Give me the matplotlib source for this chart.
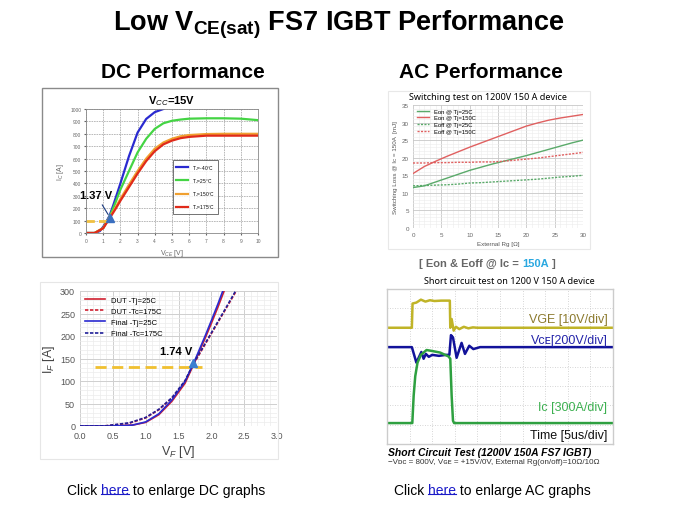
import matplotlib
matplotlib.use("Agg")
import matplotlib.pyplot as plt
from matplotlib.patches import Rectangle
from matplotlib.lines import Line2D

plt.rcParams["font.family"] = ["Liberation Sans", "DejaVu Sans"]
plt.rcParams["mathtext.fontset"] = "custom"
plt.rcParams["mathtext.rm"] = "Liberation Sans"
plt.rcParams["mathtext.it"] = "Liberation Sans:italic"
plt.rcParams["mathtext.bf"] = "Liberation Sans:bold"

W, H = 675, 506

# ── DC: output characteristic Ic vs Vce (Vge = 15 V) ────────────────────────
vce_m40 = [0, 0.5, 0.8, 1.0, 1.2, 1.37, 1.6, 2.0, 2.5, 3.0, 3.5, 4.0, 4.5]
ic_m40 = [0, 0, 15, 50, 95, 140, 230, 400, 620, 810, 920, 975, 1000]
vce_25 = [0, 0.5, 1.0, 1.37, 1.7, 2.0, 2.5, 3.0, 3.5, 4.0, 4.5, 5.0, 5.5, 6.0, 7.0, 8.0, 9.0, 10.0]
ic_25 = [0, 0, 40, 130, 240, 350, 500, 650, 760, 840, 885, 905, 915, 922, 925, 925, 922, 910]
vce_hot = [0, 0.5, 1.0, 1.37, 1.7, 2.0, 2.5, 3.0, 3.5, 4.0, 4.5, 5.0, 5.5, 6.0, 7.0, 8.0, 9.0, 10.0]
ic_150 = [0, 0, 40, 125, 200, 275, 390, 500, 600, 680, 730, 760, 780, 790, 798, 800, 800, 800]
ic_175 = [0, 0, 38, 118, 190, 260, 370, 480, 580, 660, 715, 745, 765, 775, 785, 785, 785, 785]
dc_labels = ["T$_J$=-40°C", "T$_J$=25°C", "T$_J$=150°C", "T$_J$=175°C"]

# ── DC: diode forward characteristic If vs Vf ───────────────────────────────
vf_cold = [0, 0.2, 0.4, 0.6, 0.8, 1.0, 1.2, 1.4, 1.6, 1.74, 1.9, 2.0, 2.1, 2.2, 2.3]
if_dut25 = [0, 0, 0, 0.5, 2, 8, 25, 55, 95, 140, 193, 228, 264, 302, 345]
if_fin25 = [0, 0, 0, 0.5, 2, 9, 27, 58, 99, 143, 198, 234, 271, 310, 352]
vf_hot = [0, 0.2, 0.4, 0.5, 0.75, 1.0, 1.2, 1.4, 1.6, 1.74, 1.9, 2.0, 2.2, 2.4]
if_dut175 = [0, 0, 0.5, 2, 6, 18, 36, 62, 100, 140, 180, 205, 255, 305]
if_fin175 = [0, 0, 0.5, 2.5, 7, 19, 37, 63, 101, 142, 182, 207, 257, 308]
vf_labels = ["DUT -Tj=25C", "DUT -Tc=175C", "Final -Tj=25C", "Final -Tc=175C"]

# ── AC: switching loss vs external Rg ───────────────────────────────────────
rg = [0, 2, 4, 6, 8, 10, 12, 14, 16, 18, 20, 22, 24, 26, 28, 30]
eon_25 = [11.5, 12.0, 13.1, 14.2, 15.3, 16.4, 17.3, 18.2, 19.0, 19.8, 20.6, 21.5, 22.4, 23.3, 24.2, 25.0]
eon_150 = [15.5, 17.5, 19.0, 20.4, 21.7, 23.0, 24.2, 25.4, 26.6, 27.8, 29.0, 29.9, 30.7, 31.3, 31.8, 32.3]
eoff_25 = [12.0, 12.1, 12.2, 12.3, 12.5, 12.8, 12.9, 13.1, 13.3, 13.5, 13.7, 13.9, 14.2, 14.5, 14.7, 15.0]
eoff_150 = [18.5, 18.5, 18.6, 18.6, 18.7, 18.7, 18.8, 18.8, 19.0, 19.3, 19.6, 19.9, 20.3, 20.7, 21.1, 21.5]
sw_labels = ["Eon @ Tj=25C", "Eon @ Tj=150C", "Eoff @ Tj=25C", "Eoff @ Tj=150C"]

# ── AC: short circuit scope traces (divisions) ──────────────────────────────
t_vge = [0, 1.10, 1.13, 1.3, 1.5, 1.7, 1.9, 2.1, 2.4, 2.78, 2.80, 2.86, 2.95, 3.05, 3.2, 3.4, 3.6, 3.8, 4.0, 10]
vge = [6.0, 6.0, 7.25, 7.3, 7.45, 7.35, 7.42, 7.38, 7.4, 7.4, 6.0, 6.45, 5.85, 6.05, 5.93, 6.05, 5.97, 6.02, 6.0, 6.0]
t_vce = [0, 1.10, 1.2, 1.3, 1.42, 1.52, 1.62, 1.72, 1.85, 2.0, 2.3, 2.6, 2.76, 2.83, 2.92, 3.08, 3.30, 3.45, 3.64, 3.82, 4.12, 10]
vce = [5.0, 5.0, 4.6, 4.2, 4.5, 4.75, 4.4, 4.65, 4.5, 4.6, 4.55, 4.6, 4.6, 5.62, 5.5, 4.45, 5.22, 4.65, 5.07, 4.9, 5.0, 5.0]
t_ic = [0, 1.12, 1.18, 1.25, 1.35, 1.5, 1.75, 2.0, 2.35, 2.72, 2.80, 2.86, 2.92, 2.97, 10]
ic = [1.08, 1.08, 2.5, 3.5, 4.2, 4.6, 4.85, 4.8, 4.72, 4.52, 4.4, 2.5, 1.2, 1.08, 1.08]


def box(x0, y0, x1, y1):
    return [x0 / W, 1 - y1 / H, (x1 - x0) / W, (y1 - y0) / H]


def frame(x0, y0, x1, y1, color, lw=1.0):
    fig.add_artist(Rectangle((x0 / W, 1 - y1 / H), (x1 - x0) / W, (y1 - y0) / H,
                             transform=fig.transFigure, fill=False,
                             edgecolor=color, linewidth=lw))


def ftext(x, y, s, **kw):
    return fig.text(x / W, 1 - y / H, s, **kw)


def chain(prev, s, **kw):
    # put text s right after the previous text artist
    return fig.add_artist(plt.Annotation(s, xy=(1, 0), xycoords=prev,
                                         va="bottom", **kw))


fig = plt.figure(figsize=(W / 100, H / 100), dpi=100)
fig.patch.set_facecolor("white")

# titles
ftext(339, 25, r"Low V$_{\mathbf{CE(sat)}}$ FS7 IGBT Performance", ha="center",
      va="center", fontsize=19.5, fontweight="bold")
ftext(183, 72, "DC Performance", ha="center", va="center", fontsize=15, fontweight="bold")
ftext(481, 72, "AC Performance", ha="center", va="center", fontsize=15, fontweight="bold")

# ── Panel 1: Ic-Vce ─────────────────────────────────────────────────────────
frame(42, 89, 278, 258, "#8a8a8a", 1.0)
ax = fig.add_axes(box(86, 110, 258, 234))
ax.plot(vce_m40, ic_m40, color="#2a2ad0", lw=1.6, label=dc_labels[0])
ax.plot(vce_25, ic_25, color="#44d444", lw=1.6, label=dc_labels[1])
ax.plot(vce_hot, ic_150, color="#f0a030", lw=1.6, label=dc_labels[2])
ax.plot(vce_hot, ic_175, color="#e02a1a", lw=1.6, label=dc_labels[3])
ax.plot([0, 1.5], [100, 100], color="#f0c040", lw=2.0, ls=(0, (3, 1.5)))
ax.plot([1.37], [125], marker="^", color="#3a6fc0", ms=6)
ax.annotate("1.37 V", xy=(1.37, 130), xytext=(-0.35, 285), fontsize=8,
            fontweight="bold", annotation_clip=False,
            arrowprops=dict(arrowstyle="-", color="#1a3a80", lw=0.8))
ax.set_xlim(0, 10)
ax.set_ylim(0, 1000)
ax.set_xticks(range(0, 11))
ax.set_yticks(range(0, 1001, 100))
ax.tick_params(labelsize=3.5, length=1.5, colors="#666666", pad=2)
ax.grid(True, color="#b0b0b0", lw=0.6, ls=(0, (2, 1)))
for s in ax.spines.values():
    s.set_color("#888888")
    s.set_linewidth(0.6)
ax.set_xlabel("V$_{CE}$ [V]", fontsize=5, color="#666666", labelpad=3)
ax.set_ylabel("I$_C$ [A]", fontsize=5, color="#666666", labelpad=3)
ax.text(0.5, 1.02, "V$_{CC}$=15V", transform=ax.transAxes, ha="center",
        va="bottom", fontsize=8, fontweight="bold")
leg = ax.legend(loc="center right", bbox_to_anchor=(0.78, 0.37), fontsize=3.5,
                frameon=True, fancybox=False, handlelength=2.5, labelspacing=0.9,
                borderpad=0.6)
leg.get_frame().set_edgecolor("#333333")
leg.get_frame().set_linewidth(0.6)

# ── Panel 2: If-Vf ──────────────────────────────────────────────────────────
frame(40, 283, 278, 460, "#e6e6e6", 0.8)
ax = fig.add_axes(box(80, 292, 277, 427))
ax.plot(vf_cold, if_dut25, color="#d02030", lw=1.2, label=vf_labels[0])
ax.plot(vf_hot, if_dut175, color="#d02030", lw=1.2, ls=(0, (2, 1)), label=vf_labels[1])
ax.plot(vf_cold, if_fin25, color="#2a2ad0", lw=1.2, label=vf_labels[2])
ax.plot(vf_hot, if_fin175, color="#20209a", lw=1.2, ls=(0, (2, 1)), label=vf_labels[3])
ax.plot([0.23, 1.86], [131, 131], color="#f0c030", lw=2.0, ls=(0, (4, 2)))
ax.plot([1.72], [140], marker="^", color="#3a7fd0", ms=6)
ax.annotate("1.74 V", xy=(1.71, 142), xytext=(1.22, 160), fontsize=8,
            fontweight="bold",
            arrowprops=dict(arrowstyle="-", color="#3a7fd0", lw=1.0))
ax.set_xlim(0, 3)
ax.set_ylim(0, 300)
ax.set_xticks([0, 0.5, 1.0, 1.5, 2.0, 2.5, 3.0])
ax.set_xticklabels(["0.0", "0.5", "1.0", "1.5", "2.0", "2.5", "3.0"])
ax.set_yticks(range(0, 301, 50))
ax.set_xticks([i / 10 for i in range(31)], minor=True)
ax.set_yticks(range(0, 301, 10), minor=True)
ax.tick_params(which="both", length=0, labelsize=6.5, colors="#555555")
ax.grid(True, which="major", color="#cfcfcf", lw=0.7)
ax.grid(True, which="minor", color="#ececec", lw=0.5)
for s in ax.spines.values():
    s.set_visible(False)
ax.set_xlabel("V$_F$ [V]", fontsize=9, color="#444444", labelpad=2)
ax.set_ylabel("I$_F$ [A]", fontsize=9, color="#444444", labelpad=2)
ax.legend(loc="upper left", fontsize=5.5, frameon=False, handlelength=2.6,
          labelspacing=0.5, borderaxespad=0.3)

# ── Panel 3: switching loss ─────────────────────────────────────────────────
frame(388, 92, 590, 250, "#e8e8e8", 0.8)
ftext(488, 97, "Switching test on 1200V 150 A device", ha="center", va="center",
      fontsize=6.5, family=["Noto Sans", "DejaVu Sans"])
ax = fig.add_axes(box(413, 106, 583, 229))
ax.plot(rg, eon_25, color="#5aaa6a", lw=1.0, label=sw_labels[0])
ax.plot(rg, eon_150, color="#e06060", lw=1.0, label=sw_labels[1])
ax.plot(rg, eoff_25, color="#5aaa6a", lw=1.0, ls=(0, (1.5, 1)), label=sw_labels[2])
ax.plot(rg, eoff_150, color="#e06060", lw=1.0, ls=(0, (1.5, 1)), label=sw_labels[3])
ax.set_xlim(0, 30)
ax.set_ylim(0, 35)
ax.set_xticks(range(0, 31, 5))
ax.set_yticks(range(0, 36, 5))
ax.set_xticks(range(0, 31), minor=True)
ax.set_yticks(range(0, 36), minor=True)
ax.tick_params(which="both", length=0, labelsize=4.5, colors="#666666", pad=3)
ax.grid(True, which="major", color="#c8c8c8", lw=0.6)
ax.grid(True, which="minor", color="#ececec", lw=0.4)
for s in ax.spines.values():
    s.set_visible(False)
ax.set_xlabel("External Rg [Ω]", fontsize=4.5, color="#555555", labelpad=3)
ax.set_ylabel("Switching Loss @ Ic = 150A  [mJ]", fontsize=4.5, color="#555555",
              labelpad=3)
ax.legend(loc="upper left", fontsize=4.2, frameon=False, handlelength=2.2,
          labelspacing=0.3, borderaxespad=0.2)

t0 = ftext(419, 264, "[ Eon & Eoff @ Ic = ", ha="left", va="center",
           fontsize=8, fontweight="bold", color="#666666")
t1 = chain(t0, "150A", fontsize=8, fontweight="bold", color="#2aa8e0")
chain(t1, " ]", fontsize=8, fontweight="bold", color="#666666")

# ── Panel 4: short circuit scope ────────────────────────────────────────────
ftext(509, 281, "Short circuit test on 1200 V 150 A device", ha="center",
      va="center", fontsize=6.5, family=["Noto Sans", "DejaVu Sans"])
ax = fig.add_axes(box(387, 290, 613, 445))
ax.plot(t_vge, vge, color="#c0b428", lw=1.8)
ax.plot(t_vce, vce, color="#12129a", lw=1.8)
ax.plot(t_ic, ic, color="#2ea040", lw=1.8)
ax.set_xlim(0, 10)
ax.set_ylim(0, 8)
ax.set_xticks(range(0, 11))
ax.set_yticks(range(0, 9))
ax.tick_params(length=0, labelleft=False, labelbottom=False)
ax.grid(True, color="#c8c8c8", lw=0.6, ls=(0, (1, 2)))
for s in ax.spines.values():
    s.set_color("#cccccc")
    s.set_linewidth(1.0)
fam = ["Liberation Sans", "DejaVu Sans"]
ax.text(9.75, 6.45, "VGE [10V/div]", ha="right", va="center", fontsize=9,
        color="#8c7a2e", family=fam)
ax.text(9.75, 5.35, "Vᴄᴇ[200V/div]", ha="right", va="center", fontsize=9,
        color="#2424aa", family=fam)
ax.text(9.75, 1.9, "Ic [300A/div]", ha="right", va="center", fontsize=9,
        color="#3cb050", family=fam)
ax.text(9.75, 0.45, "Time [5us/div]", ha="right", va="center", fontsize=9,
        color="#111111", family=fam)
ftext(388, 453, "Short Circuit Test (1200V 150A FS7 IGBT)", ha="left",
      va="center", fontsize=7.5, fontweight="bold", style="italic")
ftext(388, 463, "−Vᴅᴄ = 800V, Vɢᴇ = +15V/0V, External Rg(on/off)=10Ω/10Ω",
      ha="left", va="center", fontsize=5.8, color="#333333", family=fam)

# ── footer links ────────────────────────────────────────────────────────────
links = []
for x0, what in [(67, "DC"), (394, "AC")]:
    a = ftext(x0, 491, "Click ", ha="left", va="center", fontsize=10)
    b = chain(a, "here", fontsize=10, color="#1a1ac8")
    chain(b, f" to enlarge {what} graphs", fontsize=10)
    links.append(b)

fig.canvas.draw()
for b in links:
    bb = b.get_window_extent()
    yline = (bb.y0 + 0.2 * bb.height) / H
    fig.add_artist(Line2D([bb.x0 / W, bb.x1 / W], [yline, yline],
                          transform=fig.transFigure, color="#1a1ac8", lw=0.8))

fig.savefig("out.png", dpi=100)
